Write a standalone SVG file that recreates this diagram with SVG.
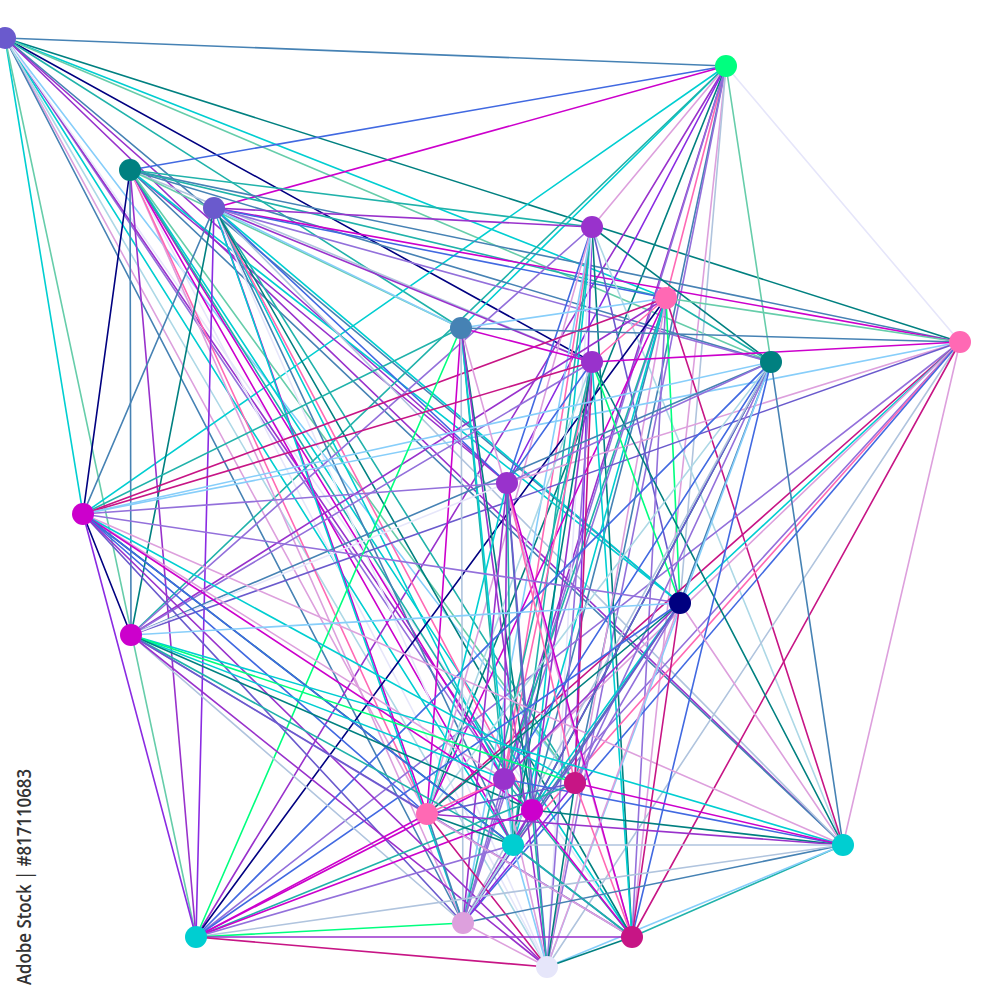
<svg xmlns="http://www.w3.org/2000/svg" width="1000" height="1000" viewBox="0 0 1000 1000">
<style>
line{stroke-width:1.6;stroke-linecap:round}
.sb{stroke:#4682b4}.rb{stroke:#4169e1}.mg{stroke:#cc00cc}.tl{stroke:#008080}.ls{stroke:#20b2aa}.dt{stroke:#00ced1}.ma{stroke:#66cdaa}.nv{stroke:#000080}.do{stroke:#9932cc}.bv{stroke:#8a2be2}.mp{stroke:#9370db}.sl{stroke:#6a5acd}.lk{stroke:#87cefa}.lt{stroke:#b0c4de}.lb{stroke:#add8e6}.lv{stroke:#e6e6fa}.pl{stroke:#dda0dd}.hp{stroke:#ff69b4}.mv{stroke:#c71585}.sg{stroke:#00ff7f}
.node circle{stroke:none}
.wm{font-family:"Open Sans","DejaVu Sans",sans-serif;font-size:19px;font-weight:600;fill:#333}
</style>
<rect width="1000" height="1000" fill="#ffffff"/>
<g id="connectors">
<line class="sb" x1="5" y1="38" x2="726" y2="66"/>
<line class="tl" x1="5" y1="38" x2="960" y2="342"/>
<line class="nv" x1="5" y1="38" x2="592" y2="362"/>
<line class="dt" x1="5" y1="38" x2="83" y2="514"/>
<line class="ma" x1="5" y1="38" x2="196" y2="937"/>
<line class="dt" x1="5" y1="38" x2="666" y2="298"/>
<line class="ma" x1="5" y1="38" x2="771" y2="362"/>
<line class="ls" x1="5" y1="38" x2="461" y2="328"/>
<line class="do" x1="5" y1="38" x2="507" y2="483"/>
<line class="sb" x1="5" y1="38" x2="680" y2="603"/>
<line class="mp" x1="5" y1="38" x2="504" y2="779"/>
<line class="lk" x1="5" y1="38" x2="575" y2="783"/>
<line class="do" x1="5" y1="38" x2="532" y2="810"/>
<line class="pl" x1="5" y1="38" x2="427" y2="814"/>
<line class="dt" x1="5" y1="38" x2="513" y2="845"/>
<line class="do" x1="5" y1="38" x2="843" y2="845"/>
<line class="sb" x1="5" y1="38" x2="463" y2="923"/>
<line class="lv" x1="5" y1="38" x2="632" y2="937"/>
<line class="lb" x1="5" y1="38" x2="547" y2="967"/>
<line class="rb" x1="726" y1="66" x2="130" y2="170"/>
<line class="mg" x1="726" y1="66" x2="214" y2="208"/>
<line class="dt" x1="726" y1="66" x2="83" y2="514"/>
<line class="dt" x1="726" y1="66" x2="461" y2="328"/>
<line class="pl" x1="726" y1="66" x2="592" y2="227"/>
<line class="do" x1="726" y1="66" x2="196" y2="937"/>
<line class="hp" x1="726" y1="66" x2="666" y2="298"/>
<line class="lv" x1="726" y1="66" x2="960" y2="342"/>
<line class="ma" x1="726" y1="66" x2="771" y2="362"/>
<line class="do" x1="726" y1="66" x2="504" y2="779"/>
<line class="sb" x1="726" y1="66" x2="575" y2="783"/>
<line class="mp" x1="726" y1="66" x2="547" y2="967"/>
<line class="pl" x1="726" y1="66" x2="632" y2="937"/>
<line class="lt" x1="726" y1="66" x2="680" y2="603"/>
<line class="tl" x1="726" y1="66" x2="427" y2="814"/>
<line class="mp" x1="726" y1="66" x2="463" y2="923"/>
<line class="bv" x1="726" y1="66" x2="507" y2="483"/>
<line class="ls" x1="726" y1="66" x2="131" y2="635"/>
<line class="ls" x1="130" y1="170" x2="592" y2="227"/>
<line class="sb" x1="130" y1="170" x2="960" y2="342"/>
<line class="ls" x1="130" y1="170" x2="666" y2="298"/>
<line class="sb" x1="130" y1="170" x2="771" y2="362"/>
<line class="lt" x1="130" y1="170" x2="592" y2="362"/>
<line class="nv" x1="130" y1="170" x2="83" y2="514"/>
<line class="sb" x1="130" y1="170" x2="131" y2="635"/>
<line class="do" x1="130" y1="170" x2="196" y2="937"/>
<line class="sb" x1="130" y1="170" x2="843" y2="845"/>
<line class="dt" x1="130" y1="170" x2="632" y2="937"/>
<line class="pl" x1="130" y1="170" x2="463" y2="923"/>
<line class="hp" x1="130" y1="170" x2="427" y2="814"/>
<line class="lv" x1="130" y1="170" x2="547" y2="967"/>
<line class="mg" x1="130" y1="170" x2="513" y2="845"/>
<line class="mg" x1="130" y1="170" x2="504" y2="779"/>
<line class="ls" x1="130" y1="170" x2="532" y2="810"/>
<line class="do" x1="130" y1="170" x2="507" y2="483"/>
<line class="dt" x1="130" y1="170" x2="680" y2="603"/>
<line class="ma" x1="130" y1="170" x2="575" y2="783"/>
<line class="ma" x1="130" y1="170" x2="461" y2="328"/>
<line class="do" x1="214" y1="208" x2="592" y2="227"/>
<line class="mg" x1="214" y1="208" x2="960" y2="342"/>
<line class="sb" x1="214" y1="208" x2="83" y2="514"/>
<line class="tl" x1="214" y1="208" x2="131" y2="635"/>
<line class="bv" x1="214" y1="208" x2="196" y2="937"/>
<line class="lt" x1="214" y1="208" x2="843" y2="845"/>
<line class="do" x1="214" y1="208" x2="592" y2="362"/>
<line class="rb" x1="214" y1="208" x2="666" y2="298"/>
<line class="mp" x1="214" y1="208" x2="771" y2="362"/>
<line class="lk" x1="214" y1="208" x2="461" y2="328"/>
<line class="rb" x1="214" y1="208" x2="507" y2="483"/>
<line class="dt" x1="214" y1="208" x2="680" y2="603"/>
<line class="dt" x1="214" y1="208" x2="504" y2="779"/>
<line class="ls" x1="214" y1="208" x2="575" y2="783"/>
<line class="hp" x1="214" y1="208" x2="532" y2="810"/>
<line class="mg" x1="214" y1="208" x2="427" y2="814"/>
<line class="sb" x1="214" y1="208" x2="513" y2="845"/>
<line class="dt" x1="214" y1="208" x2="463" y2="923"/>
<line class="tl" x1="214" y1="208" x2="632" y2="937"/>
<line class="lv" x1="214" y1="208" x2="547" y2="967"/>
<line class="tl" x1="592" y1="227" x2="771" y2="362"/>
<line class="lb" x1="592" y1="227" x2="843" y2="845"/>
<line class="rb" x1="592" y1="227" x2="507" y2="483"/>
<line class="hp" x1="592" y1="227" x2="504" y2="779"/>
<line class="bv" x1="592" y1="227" x2="575" y2="783"/>
<line class="dt" x1="592" y1="227" x2="532" y2="810"/>
<line class="pl" x1="592" y1="227" x2="427" y2="814"/>
<line class="ls" x1="592" y1="227" x2="513" y2="845"/>
<line class="lk" x1="592" y1="227" x2="463" y2="923"/>
<line class="tl" x1="592" y1="227" x2="632" y2="937"/>
<line class="lv" x1="592" y1="227" x2="547" y2="967"/>
<line class="sl" x1="592" y1="227" x2="680" y2="603"/>
<line class="mp" x1="592" y1="227" x2="131" y2="635"/>
<line class="mv" x1="666" y1="298" x2="83" y2="514"/>
<line class="ma" x1="666" y1="298" x2="960" y2="342"/>
<line class="mv" x1="666" y1="298" x2="843" y2="845"/>
<line class="nv" x1="666" y1="298" x2="196" y2="937"/>
<line class="lk" x1="666" y1="298" x2="461" y2="328"/>
<line class="ls" x1="666" y1="298" x2="771" y2="362"/>
<line class="hp" x1="666" y1="298" x2="592" y2="362"/>
<line class="mp" x1="666" y1="298" x2="463" y2="923"/>
<line class="mg" x1="666" y1="298" x2="427" y2="814"/>
<line class="ls" x1="666" y1="298" x2="504" y2="779"/>
<line class="sb" x1="666" y1="298" x2="532" y2="810"/>
<line class="dt" x1="666" y1="298" x2="513" y2="845"/>
<line class="pl" x1="666" y1="298" x2="547" y2="967"/>
<line class="mp" x1="666" y1="298" x2="632" y2="937"/>
<line class="do" x1="666" y1="298" x2="131" y2="635"/>
<line class="sg" x1="666" y1="298" x2="680" y2="603"/>
<line class="sb" x1="960" y1="342" x2="461" y2="328"/>
<line class="mg" x1="960" y1="342" x2="592" y2="362"/>
<line class="lk" x1="960" y1="342" x2="83" y2="514"/>
<line class="pl" x1="960" y1="342" x2="507" y2="483"/>
<line class="sl" x1="960" y1="342" x2="131" y2="635"/>
<line class="mp" x1="960" y1="342" x2="196" y2="937"/>
<line class="mv" x1="960" y1="342" x2="427" y2="814"/>
<line class="dt" x1="960" y1="342" x2="680" y2="603"/>
<line class="pl" x1="960" y1="342" x2="504" y2="779"/>
<line class="mp" x1="960" y1="342" x2="532" y2="810"/>
<line class="hp" x1="960" y1="342" x2="513" y2="845"/>
<line class="rb" x1="960" y1="342" x2="463" y2="923"/>
<line class="lt" x1="960" y1="342" x2="547" y2="967"/>
<line class="mv" x1="960" y1="342" x2="632" y2="937"/>
<line class="pl" x1="960" y1="342" x2="843" y2="845"/>
<line class="sg" x1="461" y1="328" x2="196" y2="937"/>
<line class="ls" x1="461" y1="328" x2="83" y2="514"/>
<line class="mg" x1="461" y1="328" x2="592" y2="362"/>
<line class="ls" x1="461" y1="328" x2="504" y2="779"/>
<line class="tl" x1="461" y1="328" x2="532" y2="810"/>
<line class="dt" x1="461" y1="328" x2="513" y2="845"/>
<line class="mg" x1="461" y1="328" x2="427" y2="814"/>
<line class="lt" x1="461" y1="328" x2="463" y2="923"/>
<line class="do" x1="461" y1="328" x2="547" y2="967"/>
<line class="pl" x1="461" y1="328" x2="632" y2="937"/>
<line class="sg" x1="592" y1="362" x2="680" y2="603"/>
<line class="rb" x1="592" y1="362" x2="507" y2="483"/>
<line class="hp" x1="592" y1="362" x2="504" y2="779"/>
<line class="mv" x1="592" y1="362" x2="575" y2="783"/>
<line class="do" x1="592" y1="362" x2="532" y2="810"/>
<line class="tl" x1="592" y1="362" x2="513" y2="845"/>
<line class="lb" x1="592" y1="362" x2="427" y2="814"/>
<line class="ls" x1="592" y1="362" x2="463" y2="923"/>
<line class="mp" x1="592" y1="362" x2="547" y2="967"/>
<line class="dt" x1="592" y1="362" x2="632" y2="937"/>
<line class="tl" x1="592" y1="362" x2="843" y2="845"/>
<line class="mp" x1="592" y1="362" x2="131" y2="635"/>
<line class="mv" x1="592" y1="362" x2="83" y2="514"/>
<line class="sb" x1="771" y1="362" x2="843" y2="845"/>
<line class="lk" x1="771" y1="362" x2="83" y2="514"/>
<line class="sb" x1="771" y1="362" x2="131" y2="635"/>
<line class="sb" x1="771" y1="362" x2="680" y2="603"/>
<line class="rb" x1="771" y1="362" x2="504" y2="779"/>
<line class="mp" x1="771" y1="362" x2="575" y2="783"/>
<line class="tl" x1="771" y1="362" x2="532" y2="810"/>
<line class="lb" x1="771" y1="362" x2="427" y2="814"/>
<line class="sl" x1="771" y1="362" x2="513" y2="845"/>
<line class="rb" x1="771" y1="362" x2="196" y2="937"/>
<line class="lt" x1="771" y1="362" x2="463" y2="923"/>
<line class="lk" x1="771" y1="362" x2="547" y2="967"/>
<line class="rb" x1="771" y1="362" x2="632" y2="937"/>
<line class="mp" x1="771" y1="362" x2="507" y2="483"/>
<line class="do" x1="507" y1="483" x2="504" y2="779"/>
<line class="hp" x1="507" y1="483" x2="575" y2="783"/>
<line class="sb" x1="507" y1="483" x2="532" y2="810"/>
<line class="dt" x1="507" y1="483" x2="427" y2="814"/>
<line class="ls" x1="507" y1="483" x2="513" y2="845"/>
<line class="do" x1="507" y1="483" x2="463" y2="923"/>
<line class="mg" x1="507" y1="483" x2="632" y2="937"/>
<line class="sl" x1="507" y1="483" x2="547" y2="967"/>
<line class="mp" x1="507" y1="483" x2="83" y2="514"/>
<line class="lv" x1="507" y1="483" x2="131" y2="635"/>
<line class="nv" x1="83" y1="514" x2="131" y2="635"/>
<line class="bv" x1="83" y1="514" x2="196" y2="937"/>
<line class="pl" x1="83" y1="514" x2="843" y2="845"/>
<line class="pl" x1="83" y1="514" x2="504" y2="779"/>
<line class="dt" x1="83" y1="514" x2="575" y2="783"/>
<line class="mg" x1="83" y1="514" x2="532" y2="810"/>
<line class="rb" x1="83" y1="514" x2="427" y2="814"/>
<line class="tl" x1="83" y1="514" x2="513" y2="845"/>
<line class="sl" x1="83" y1="514" x2="463" y2="923"/>
<line class="rb" x1="83" y1="514" x2="632" y2="937"/>
<line class="do" x1="83" y1="514" x2="547" y2="967"/>
<line class="mp" x1="83" y1="514" x2="680" y2="603"/>
<line class="lk" x1="680" y1="603" x2="131" y2="635"/>
<line class="do" x1="680" y1="603" x2="504" y2="779"/>
<line class="mp" x1="680" y1="603" x2="575" y2="783"/>
<line class="dt" x1="680" y1="603" x2="532" y2="810"/>
<line class="tl" x1="680" y1="603" x2="427" y2="814"/>
<line class="sb" x1="680" y1="603" x2="513" y2="845"/>
<line class="sl" x1="680" y1="603" x2="463" y2="923"/>
<line class="pl" x1="680" y1="603" x2="547" y2="967"/>
<line class="mv" x1="680" y1="603" x2="632" y2="937"/>
<line class="rb" x1="680" y1="603" x2="196" y2="937"/>
<line class="pl" x1="680" y1="603" x2="843" y2="845"/>
<line class="dt" x1="131" y1="635" x2="843" y2="845"/>
<line class="dt" x1="131" y1="635" x2="504" y2="779"/>
<line class="sg" x1="131" y1="635" x2="575" y2="783"/>
<line class="tl" x1="131" y1="635" x2="532" y2="810"/>
<line class="mp" x1="131" y1="635" x2="427" y2="814"/>
<line class="ls" x1="131" y1="635" x2="513" y2="845"/>
<line class="lt" x1="131" y1="635" x2="463" y2="923"/>
<line class="sl" x1="131" y1="635" x2="632" y2="937"/>
<line class="do" x1="131" y1="635" x2="547" y2="967"/>
<line class="lk" x1="504" y1="779" x2="513" y2="845"/>
<line class="mp" x1="504" y1="779" x2="463" y2="923"/>
<line class="pl" x1="504" y1="779" x2="547" y2="967"/>
<line class="ls" x1="504" y1="779" x2="632" y2="937"/>
<line class="mg" x1="504" y1="779" x2="196" y2="937"/>
<line class="rb" x1="504" y1="779" x2="843" y2="845"/>
<line class="hp" x1="504" y1="779" x2="427" y2="814"/>
<line class="mg" x1="575" y1="783" x2="843" y2="845"/>
<line class="ls" x1="575" y1="783" x2="196" y2="937"/>
<line class="bv" x1="575" y1="783" x2="463" y2="923"/>
<line class="tl" x1="575" y1="783" x2="547" y2="967"/>
<line class="hp" x1="575" y1="783" x2="632" y2="937"/>
<line class="sl" x1="575" y1="783" x2="427" y2="814"/>
<line class="tl" x1="532" y1="810" x2="843" y2="845"/>
<line class="mg" x1="532" y1="810" x2="196" y2="937"/>
<line class="do" x1="532" y1="810" x2="463" y2="923"/>
<line class="ls" x1="532" y1="810" x2="547" y2="967"/>
<line class="mg" x1="532" y1="810" x2="632" y2="937"/>
<line class="do" x1="427" y1="814" x2="843" y2="845"/>
<line class="mg" x1="427" y1="814" x2="196" y2="937"/>
<line class="sb" x1="427" y1="814" x2="463" y2="923"/>
<line class="mv" x1="427" y1="814" x2="547" y2="967"/>
<line class="pl" x1="427" y1="814" x2="632" y2="937"/>
<line class="tl" x1="427" y1="814" x2="513" y2="845"/>
<line class="lt" x1="513" y1="845" x2="843" y2="845"/>
<line class="mp" x1="513" y1="845" x2="196" y2="937"/>
<line class="lb" x1="513" y1="845" x2="463" y2="923"/>
<line class="lk" x1="513" y1="845" x2="547" y2="967"/>
<line class="ls" x1="513" y1="845" x2="632" y2="937"/>
<line class="sb" x1="843" y1="845" x2="463" y2="923"/>
<line class="ls" x1="843" y1="845" x2="632" y2="937"/>
<line class="lk" x1="843" y1="845" x2="547" y2="967"/>
<line class="lt" x1="843" y1="845" x2="196" y2="937"/>
<line class="sg" x1="196" y1="937" x2="463" y2="923"/>
<line class="do" x1="196" y1="937" x2="632" y2="937"/>
<line class="mv" x1="196" y1="937" x2="547" y2="967"/>
<line class="pl" x1="463" y1="923" x2="547" y2="967"/>
<line class="tl" x1="632" y1="937" x2="547" y2="967"/>
</g>
<g id="n1" class="node"><circle cx="5" cy="38" r="11" fill="#6a5acd"/></g>
<g id="n2" class="node"><circle cx="726" cy="66" r="11" fill="#00ff7f"/></g>
<g id="n3" class="node"><circle cx="130" cy="170" r="11" fill="#008080"/></g>
<g id="n4" class="node"><circle cx="214" cy="208" r="11" fill="#6a5acd"/></g>
<g id="n5" class="node"><circle cx="592" cy="227" r="11" fill="#9932cc"/></g>
<g id="n6" class="node"><circle cx="666" cy="298" r="11" fill="#ff69b4"/></g>
<g id="n7" class="node"><circle cx="960" cy="342" r="11" fill="#ff69b4"/></g>
<g id="n8" class="node"><circle cx="461" cy="328" r="11" fill="#4682b4"/></g>
<g id="n9" class="node"><circle cx="592" cy="362" r="11" fill="#9932cc"/></g>
<g id="n10" class="node"><circle cx="771" cy="362" r="11" fill="#008080"/></g>
<g id="n11" class="node"><circle cx="507" cy="483" r="11" fill="#9932cc"/></g>
<g id="n12" class="node"><circle cx="83" cy="514" r="11" fill="#cc00cc"/></g>
<g id="n13" class="node"><circle cx="680" cy="603" r="11" fill="#000080"/></g>
<g id="n14" class="node"><circle cx="131" cy="635" r="11" fill="#cc00cc"/></g>
<g id="n15" class="node"><circle cx="504" cy="779" r="11" fill="#9932cc"/></g>
<g id="n16" class="node"><circle cx="575" cy="783" r="11" fill="#c71585"/></g>
<g id="n17" class="node"><circle cx="532" cy="810" r="11" fill="#cc00cc"/></g>
<g id="n18" class="node"><circle cx="427" cy="814" r="11" fill="#ff69b4"/></g>
<g id="n19" class="node"><circle cx="513" cy="845" r="11" fill="#00ced1"/></g>
<g id="n20" class="node"><circle cx="843" cy="845" r="11" fill="#00ced1"/></g>
<g id="n21" class="node"><circle cx="196" cy="937" r="11" fill="#00ced1"/></g>
<g id="n22" class="node"><circle cx="463" cy="923" r="11" fill="#dda0dd"/></g>
<g id="n23" class="node"><circle cx="632" cy="937" r="11" fill="#c71585"/></g>
<g id="n24" class="node"><circle cx="547" cy="967" r="11" fill="#e6e6fa"/></g>
<text class="wm" transform="translate(31,985) rotate(-90)" textLength="216" lengthAdjust="spacingAndGlyphs">Adobe Stock | #817110683</text>
</svg>
